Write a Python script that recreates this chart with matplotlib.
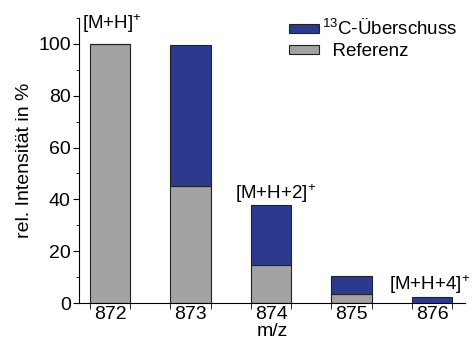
import matplotlib
matplotlib.use("Agg")
import matplotlib.pyplot as plt
from matplotlib.ticker import MultipleLocator, FixedLocator
from matplotlib.patches import Patch

mz = [872, 873, 874, 875, 876]
referenz = [100, 45, 14.5, 3.5, 0]
ueberschuss = [0, 54.5, 23.5, 7, 2.5]
labels = ["[M+H]$^{+}$", "[M+H+2]$^{+}$", "[M+H+4]$^{+}$"]

fam = 'Liberation Sans'
plt.rcParams['font.family'] = [fam, 'DejaVu Sans']
plt.rcParams['mathtext.fontset'] = 'custom'
plt.rcParams['mathtext.rm'] = fam
plt.rcParams['mathtext.it'] = fam

fig = plt.figure(figsize=(4.74, 3.5), dpi=100)
ax = fig.add_axes([0.167, 0.134, 0.814, 0.815])

blue = '#2b3a8e'
grey = '#a3a3a3'
w = 0.5
ax.bar(mz, referenz, width=w, color=grey, edgecolor='#222222', linewidth=0.8)
ax.bar(mz, ueberschuss, width=w, bottom=referenz, color=blue, edgecolor='#222222', linewidth=0.8)

ax.set_xlim(871.615, 876.41)
ax.set_ylim(0, 110)
ax.spines['top'].set_visible(False)
ax.spines['right'].set_visible(False)
ax.set_xticks(mz)
ax.xaxis.set_minor_locator(FixedLocator([m + d for m in mz for d in (-w/2, w/2)]))
ax.tick_params(axis='x', which='major', length=0, labelsize=14, pad=2)
ax.tick_params(axis='x', which='minor', length=4, direction='out')
ax.set_yticks([0, 20, 40, 60, 80, 100])
ax.yaxis.set_minor_locator(MultipleLocator(10))
ax.tick_params(axis='y', which='major', length=4, labelsize=14, direction='out', pad=2)
ax.tick_params(axis='y', which='minor', length=2.5, direction='out')

ax.set_xlabel('m/z', fontsize=14, labelpad=0)
ax.set_ylabel('rel. Intensität in %', fontsize=14, labelpad=4)

ax.text(871.65, 105.8, labels[0], fontsize=13.5, ha='left', va='baseline')
ax.text(873.55, 40, labels[1], fontsize=13.5, ha='left', va='baseline')
ax.text(875.46, 5, labels[2], fontsize=13.5, ha='left', va='baseline', clip_on=False)

handles = [Patch(facecolor=blue, edgecolor='#222222', linewidth=0.8),
           Patch(facecolor=grey, edgecolor='#222222', linewidth=0.8)]
ax.legend(handles, ['$^{13}$C-Überschuss', '  Referenz'], loc='upper left',
          bbox_to_anchor=(0.585, 0.977), bbox_transform=fig.transFigure, frameon=False, fontsize=13.5,
          handlelength=1.6, handleheight=0.4, handletextpad=0.2, labelspacing=0.2,
          borderaxespad=0.3, borderpad=0.3)

fig.savefig('out.png', dpi=100)
